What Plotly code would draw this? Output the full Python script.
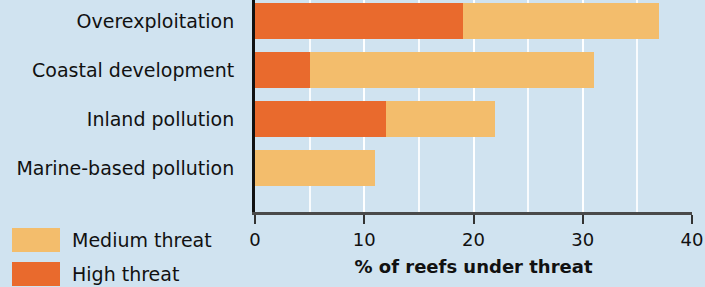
import plotly.graph_objects as go

categories = ["Overexploitation", "Coastal development", "Inland pollution", "Marine-based pollution"]
high_threat = [19, 5, 12, 0]
medium_threat = [18, 26, 10, 11]
x_ticks = [0, 10, 20, 30, 40]

HIGH = "#e96a2d"
MED = "#f3bd6c"
FONT = "DejaVu Sans"

cats_bottom_up = categories[::-1]

fig = go.Figure()
fig.add_trace(go.Bar(
    y=categories, x=high_threat, orientation="h", name="High threat",
    marker=dict(color=HIGH, line=dict(width=0)), width=0.73,
))
fig.add_trace(go.Bar(
    y=categories, x=medium_threat, orientation="h", name="Medium threat",
    marker=dict(color=MED, line=dict(width=0)), width=0.73,
))

PL, PR, PT, PB = 255, 13, 0, 75
PW = 705 - PL - PR
PH = 287 - PT - PB

fig.update_layout(
    barmode="stack",
    width=705, height=287,
    margin=dict(l=PL, r=PR, t=PT, b=PB, autoexpand=False),
    paper_bgcolor="#d0e3f0",
    plot_bgcolor="rgba(0,0,0,0)",
    showlegend=False,
    font=dict(family=FONT, color="#111"),
)
fig.update_xaxes(
    automargin=False,
    range=[0, 40], tickvals=x_ticks, ticktext=[str(v) for v in x_ticks],
    showgrid=True, gridcolor="rgba(255,255,255,0.85)", gridwidth=1.5,
    minor=dict(dtick=5, showgrid=True, gridcolor="rgba(255,255,255,0.85)", gridwidth=1.5),
    showline=True, linecolor="#4a4a4a", linewidth=3,
    ticks="outside", ticklen=9, tickwidth=2, tickcolor="#333",
    tickfont=dict(size=18, color="#111"),
    title=dict(text="<b>% of reefs under threat</b>", font=dict(size=18, color="#111"), standoff=12),
    zeroline=False,
)
fig.update_yaxes(
    automargin=False,
    categoryorder="array", categoryarray=cats_bottom_up,
    range=[-0.89, 3.43],
    showline=True, linecolor="#111", linewidth=3,
    ticks="", ticklabelstandoff=14,
    tickfont=dict(size=19, color="#111"),
    showgrid=False, zeroline=False,
)

shapes = []
for label, color, ypix in [("Medium threat", MED, 240), ("High threat", HIGH, 274)]:
    shapes.append(dict(type="rect", xref="paper", yref="paper",
                       x0=(12 - PL) / PW, x1=(60 - PL) / PW,
                       y0=(PH - ypix - 12) / PH, y1=(PH - ypix + 12) / PH,
                       fillcolor=color, line=dict(width=0)))
    fig.add_annotation(x=(70 - PL) / PW, y=(PH - ypix) / PH, xref="paper", yref="paper",
                       text=label, showarrow=False, xanchor="left", yanchor="middle",
                       font=dict(size=19, color="#111", family=FONT))
fig.layout.shapes = shapes

fig.write_html("out.html", config={"displayModeBar": False},
               post_script="document.body.style.margin='0';document.body.style.overflow='hidden';")
